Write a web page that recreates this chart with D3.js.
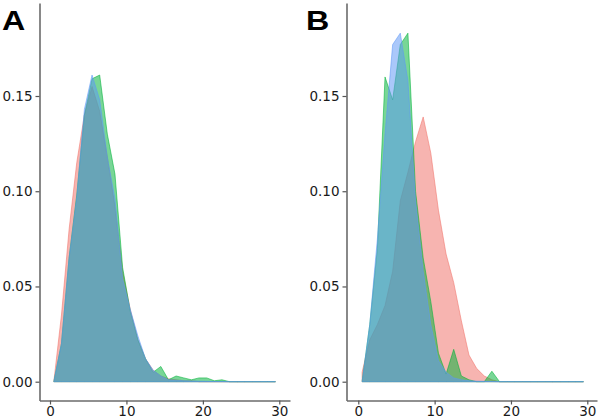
<!DOCTYPE html>
<html><head><meta charset="utf-8">
<script src="https://cdn.jsdelivr.net/npm/d3@7"></script>
<style>body{margin:0;background:#fff;}svg{display:block;}</style>
</head><body>
<svg id="c" width="600" height="419"></svg>
<script>
const binCenters = [0.5,1.5,2.5,3.5,4.5,5.5,6.5,7.5,8.5,9.5,10.5,11.5,12.5,13.5,14.5,15.5,16.5,17.5,18.5,19.5,20.5,21.5,22.5,23.5,24.5,25.5,26.5,27.5,28.5,29.5];
const seriesNames = ["red","green","blue"];
const seriesColors = ["#F07269","#00B238","#5E98F5"];
const xTicks = [0,10,20,30];
const yTicks = [0.00,0.05,0.10,0.15];
const panelLabels = ["A","B"];

const aRed   = [0,0.035,0.08,0.115,0.14,0.155,0.142,0.118,0.092,0.058,0.038,0.022,0.012,0.006,0.003,0.0015,0.001,0.0005,0.0005,0,0,0,0,0,0,0,0,0,0,0];
const aGreen = [0,0.02,0.065,0.098,0.14,0.159,0.161,0.13,0.109,0.06,0.037,0.022,0.012,0.005,0.008,0.001,0.003,0.002,0.001,0.002,0.002,0.0005,0.001,0,0,0,0,0,0,0];
const aBlue  = [0,0.02,0.065,0.097,0.143,0.161,0.148,0.118,0.096,0.054,0.038,0.024,0.012,0.006,0.003,0.001,0.0008,0.0005,0.0004,0.0003,0.0002,0.0001,0.0001,0,0,0,0,0,0,0];

const bRed   = [0.005,0.022,0.03,0.04,0.058,0.095,0.11,0.126,0.139,0.12,0.09,0.067,0.052,0.032,0.014,0.007,0.003,0.001,0,0,0,0,0,0,0,0,0,0,0,0];
const bGreen = [0,0.03,0.07,0.16,0.148,0.177,0.183,0.1,0.065,0.042,0.015,0.004,0.017,0.003,0.001,0,0,0.0055,0,0,0,0,0,0,0,0,0,0,0,0];
const bBlue  = [0,0.03,0.075,0.13,0.177,0.183,0.158,0.095,0.058,0.03,0.011,0.005,0.002,0.001,0.0005,0.0003,0.0002,0.0001,0,0,0,0,0,0,0,0,0,0,0,0];

const panels = [
  {label:panelLabels[0], series:[aRed,aGreen,aBlue], yAxisX:39.5, x0:50, x30:279.3, xEnd:290, labelX:2},
  {label:panelLabels[1], series:[bRed,bGreen,bBlue], yAxisX:346.5, x0:358.3, x30:587.3, xEnd:597, labelX:306}
];

const svg = d3.select("#c");
const yBase = 381.7, yTop15 = 96, xAxisY = 400.5, yAxisTop = 3;
const font = "'DejaVu Sans', sans-serif";

panels.forEach(p => {
  const x = d3.scaleLinear().domain([0,30]).range([p.x0, p.x30]);
  const y = d3.scaleLinear().domain([0,0.15]).range([yBase, yTop15]);
  const g = svg.append("g");

  const area = d3.area().x((d,i)=>x(binCenters[i])).y0(y(0)).y1(d=>y(d));
  p.series.forEach((s,k) => {
    g.append("path").datum(s).attr("d", area)
      .attr("fill", seriesColors[k]).attr("fill-opacity", 0.53)
      .attr("stroke", seriesColors[k]).attr("stroke-opacity", 0.55).attr("stroke-width", 1);
  });

  const xMin = x.invert(p.yAxisX), xMax = x.invert(p.xEnd);
  const xAx = d3.axisBottom(d3.scaleLinear().domain([xMin,xMax]).range([p.yAxisX,p.xEnd]))
    .tickValues(xTicks).tickSize(4).tickPadding(2).tickSizeOuter(0).tickFormat(d3.format("d"));
  const xg = g.append("g").attr("transform", `translate(0,${xAxisY})`).call(xAx);
  const yMin = y.invert(xAxisY), yMax = y.invert(yAxisTop);
  const yAx = d3.axisLeft(d3.scaleLinear().domain([yMin,yMax]).range([xAxisY,yAxisTop]))
    .tickValues(yTicks).tickSize(4).tickPadding(3).tickSizeOuter(0).tickFormat(d3.format(".2f"));
  const yg = g.append("g").attr("transform", `translate(${p.yAxisX},0)`).call(yAx);
  [xg,yg].forEach(a => {
    a.selectAll(".domain").attr("stroke","#6b6b6b").attr("stroke-width",1.6);
    a.selectAll(".tick line").attr("stroke","#555").attr("stroke-width",1.2);
    a.selectAll(".tick text").attr("fill","#1a1a1a").style("font-family",font).style("font-size","13.5px");
  });

  svg.append("text").attr("x", p.labelX).attr("y", 30).text(p.label)
    .style("font-family","'Liberation Sans', Arial, sans-serif").style("font-weight","bold")
    .style("font-size","28px").attr("fill","#000")
    .attr("transform", `translate(${p.labelX},0) scale(1.15,1) translate(${-p.labelX},0)`);
});
</script>
</body></html>
